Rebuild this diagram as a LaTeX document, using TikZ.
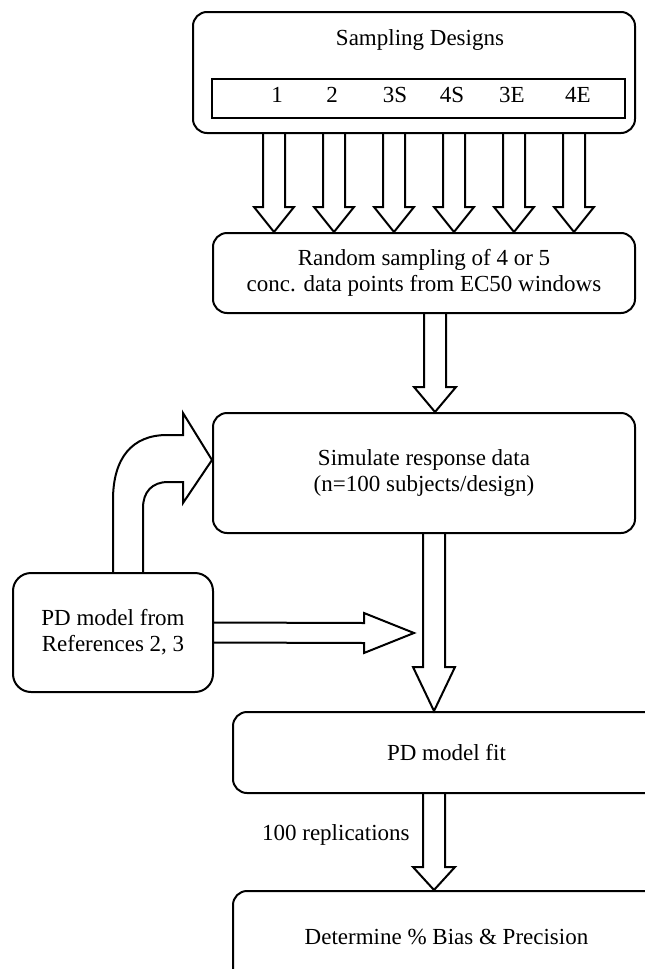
\documentclass[tikz,border=0pt]{standalone}
\usepackage{fontspec}
\setmainfont{Liberation Serif}
\usetikzlibrary{calc}
\newcommand\blockdown[5]{% #1 from node, #2 to node, #3 centre x, #4 head length, #5 head half width
  \coordinate (bx) at (#3,0);
  \draw[blk] ($(bx |- #1.south)+(-11,0)$) -- ($(bx |- #2.north)+(-11,-#4)$)
    -- ($(bx |- #2.north)+(-#5,-#4)$) -- (bx |- #2.north)
    -- ($(bx |- #2.north)+(#5,-#4)$) -- ($(bx |- #2.north)+(11,-#4)$)
    -- ($(bx |- #1.south)+(11,0)$);}
\begin{document}
\begin{tikzpicture}[x=1pt,y=-1pt,line width=2pt,
  txt/.style={font=\fontsize{23}{26}\selectfont, align=center},
  box/.style={draw, rounded corners=14pt, txt, inner sep=0pt},
  blk/.style={draw, line width=2pt, line join=miter}]
\useasboundingbox (0,0) rectangle (645,969);
\clip (0,0) rectangle (645,969);
% boxes
\node[box, minimum width=442pt, minimum height=121pt] (top) at (414,72.5) {};
\node[txt] (title) at (420,40) {Sampling Designs};
\node[draw, minimum width=413pt, minimum height=39pt, inner sep=0pt] (designs) at (418.5,98.5) {};
\node[txt] (d1) at (277,95) {1};
\node[txt] (d2) at (332,95) {2};
\node[txt] (d3) at (395,95) {3S};
\node[txt] (d4) at (452,95) {4S};
\node[txt] (d5) at (512,95) {3E};
\node[txt] (d6) at (578,95) {4E};
\node[box, minimum width=422pt, minimum height=80pt] (rand) at (424,273) {Random sampling of 4 or 5\\conc. data points from EC50 windows};
\node[box, minimum width=422pt, minimum height=120pt] (sim) at (424,473) {Simulate response data\\(n=100 subjects/design)};
\node[box, minimum width=200pt, minimum height=119pt, rounded corners=18pt] (pdm) at (113,632.5) {PD model from\\References 2, 3};
\node[box, minimum width=427pt, minimum height=81pt] (fit) at (446.5,752.5) {PD model fit};
\node[box, minimum width=427pt, minimum height=92pt] (bias) at (446.5,937) {Determine \% Bias \& Precision};
% block arrows
\foreach \cx in {274,334,394,454,514,574} {\blockdown{top}{rand}{\cx}{25}{20}}
\blockdown{rand}{sim}{435}{25}{21}
\blockdown{sim}{fit}{434}{44}{21}
\blockdown{fit}{bias}{434}{23}{21}
\node[txt, anchor=east] (rep) at (414,835) {100 replications};
% horizontal arrow
\coordinate (htip) at (414,633);
\draw[blk] ($(pdm.east)+(0,-10)$) -- (364,623) -- (364,613) -- (htip) -- (364,653) -- (364,643) -- ($(pdm.east)+(0,10)$);
% curved arrow
\coordinate (ctip) at ($(sim.west)+(0,-13)$);
\draw[blk] (pdm.north) -- (113,500) .. controls (113,458) and (132,435) .. (167,435)
  -- (183,435) -- (183,413) -- (ctip) -- (183,503) -- (183,482) -- (168,482)
  .. controls (152,482) and (143,492) .. (143,508) -- ($(pdm.north)+(30,0)$);
\end{tikzpicture}
\end{document}
